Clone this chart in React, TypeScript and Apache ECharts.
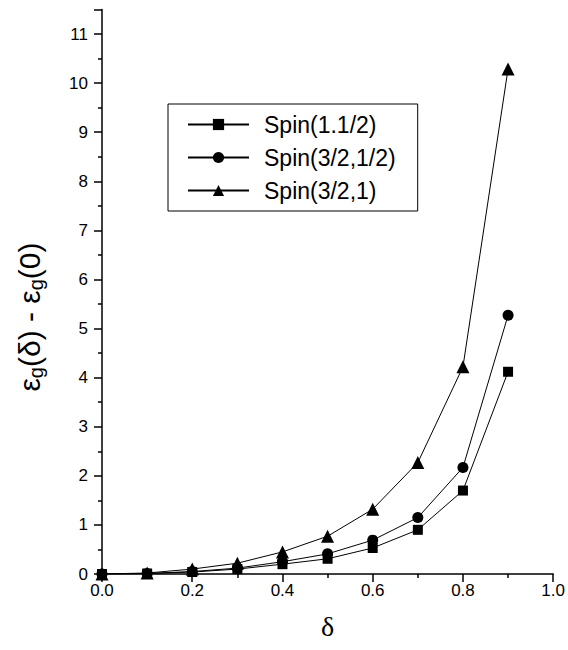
import React, { useEffect, useRef } from "react";
import * as echarts from "echarts";

const deltas = [0.0, 0.1, 0.2, 0.3, 0.4, 0.5, 0.6, 0.7, 0.8, 0.9];
const spinHalf = [0, 0.01, 0.04, 0.1, 0.2, 0.31, 0.53, 0.9, 1.7, 4.12];
const spinThreeHalfHalf = [0, 0.01, 0.05, 0.12, 0.25, 0.41, 0.69, 1.15, 2.17, 5.27];
const spinThreeHalfOne = [0, 0.02, 0.1, 0.22, 0.45, 0.77, 1.32, 2.27, 4.22, 10.29];
const seriesNames = ["Spin(1.1/2)", "Spin(3/2,1/2)", "Spin(3/2,1)"];
const xTitle = "δ";

export default function App() {
  const ref = useRef<HTMLDivElement>(null);
  useEffect(() => {
    if (!ref.current) return;
    const chart = echarts.init(ref.current, null, { renderer: "svg" });
    const mk = (vals: number[]) => deltas.map((d, i) => [d, vals[i]]);
    const common = {
      type: "line",
      lineStyle: { color: "#000", width: 1 },
      itemStyle: { color: "#000" },
      showAllSymbol: true,
    };
    chart.setOption({
      animation: false,
      backgroundColor: "#fff",
      grid: { left: 102, right: 11, top: 9.5, bottom: 76, containLabel: false },
      xAxis: {
        type: "value",
        min: 0,
        max: 1,
        interval: 0.2,
        name: xTitle,
        nameLocation: "middle",
        nameGap: 38,
        nameTextStyle: { fontFamily: "Liberation Serif", fontSize: 28, color: "#000" },
        axisLine: { lineStyle: { color: "#000", width: 1.5 } },
        axisTick: { show: true, length: 8, lineStyle: { color: "#000", width: 1.5 } },
        minorTick: { show: true, splitNumber: 2, length: 4, lineStyle: { color: "#000", width: 1.5 } },
        splitLine: { show: false },
        axisLabel: {
          color: "#000",
          fontFamily: "Liberation Sans",
          fontSize: 17,
          margin: 8,
          formatter: (v: number) => v.toFixed(1),
        },
      },
      yAxis: {
        type: "value",
        min: 0,
        max: 11.5,
        interval: 1,
        axisLine: { show: true, lineStyle: { color: "#000", width: 1.5 } },
        axisTick: { show: true, length: 8, lineStyle: { color: "#000", width: 1.5 } },
        minorTick: { show: true, splitNumber: 2, length: 4, lineStyle: { color: "#000", width: 1.5 } },
        splitLine: { show: false },
        axisLabel: {
          color: "#000",
          fontFamily: "Liberation Sans",
          fontSize: 17,
          margin: 14,
          showMaxLabel: false,
        },
      },
      legend: {
        orient: "vertical",
        left: 168,
        top: 104,
        padding: [9, 22, 9, 19],
        itemWidth: 61,
        itemHeight: 14,
        itemGap: 10,
        borderColor: "#000",
        borderWidth: 1,
        backgroundColor: "#fff",
        textStyle: {
          color: "#000",
          fontFamily: "Liberation Sans",
          fontSize: 23,
          lineHeight: 20,
          padding: [0, 0, 0, 10],
        },
        data: seriesNames,
      },
      graphic: [
        {
          type: "text",
          x: 29,
          y: 317,
          rotation: Math.PI / 2,
          style: {
            text: "{m|ε}{s|g}{m|(δ) - ε}{s|g}{m|(0)}",
            align: "center",
            verticalAlign: "middle",
            fill: "#000",
            rich: {
              m: { fontFamily: "Liberation Sans", fontSize: 30, fill: "#000" },
              s: { fontFamily: "Liberation Sans", fontSize: 20, fill: "#000", padding: [14, 0, 0, 0] },
            },
          },
        },
      ],
      series: [
        { ...common, name: seriesNames[0], symbol: "rect", symbolSize: 10, data: mk(spinHalf) },
        { ...common, name: seriesNames[1], symbol: "circle", symbolSize: 11, data: mk(spinThreeHalfHalf) },
        { ...common, name: seriesNames[2], symbol: "triangle", symbolSize: 13, data: mk(spinThreeHalfOne) },
      ],
    });
    return () => chart.dispose();
  }, []);
  return (
    <div
      ref={ref}
      style={{ position: "fixed", left: 0, top: 0, width: 568, height: 650, background: "#fff" }}
    />
  );
}
